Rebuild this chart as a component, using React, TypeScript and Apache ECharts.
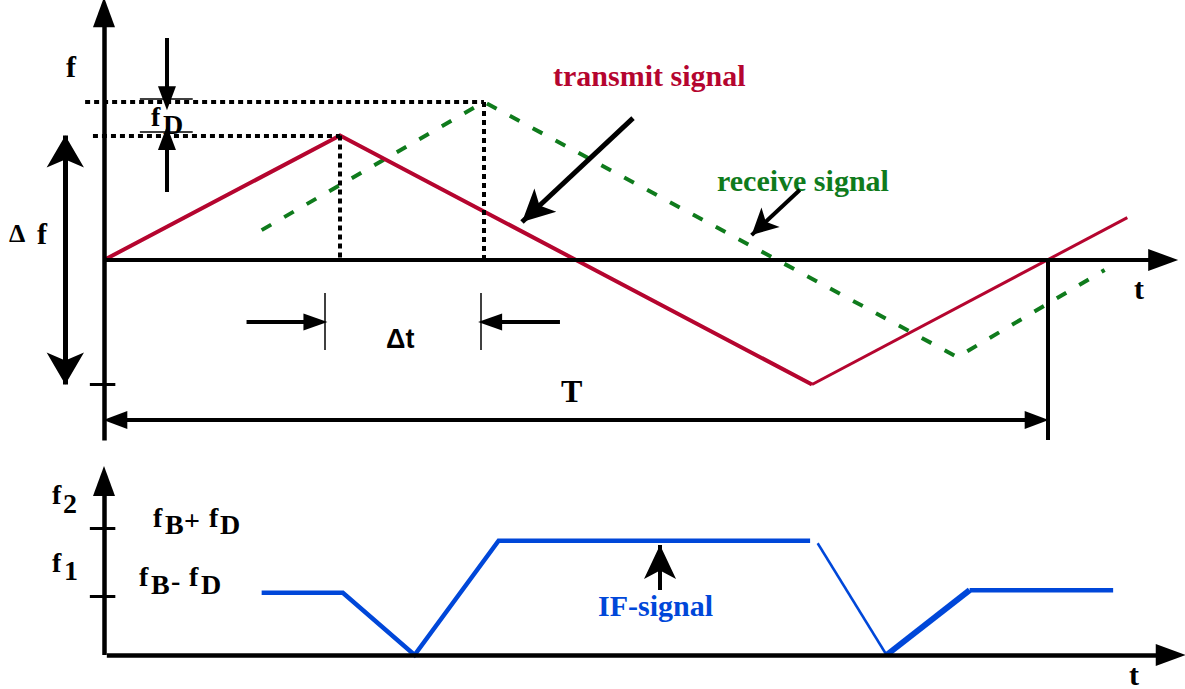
import React, { useEffect, useRef } from 'react';
import * as echarts from 'echarts';

// Time axis: one period T = 100 units. Top frequency axis: sweep Δf = 1 unit. Bottom: f2 = 1 unit.
const transmitT = [0, 25, 75];
const transmitF = [0, 1.0, -1.0];
const transmitTailT = [75, 108.4];
const transmitTailF = [-1.0, 0.34];
const receiveT = [16.7, 40.25, 90.4, 106];
const receiveF = [0.24, 1.27, -0.78, -0.08];
const ifMainT = [16.7, 25.3, 32.9, 41.8, 74.8];
const ifMainF = [0.49, 0.49, 0, 0.9, 0.9];
const ifFallT = [75.6, 82.9];
const ifFallF = [0.88, 0];
const ifRiseT = [82.9, 91.7];
const ifRiseF = [0, 0.51];
const ifFlatT = [91.7, 106.9];
const ifFlatF = [0.51, 0.51];

const periodT = 100;
const peakT = 25;
const delayedPeakT = 40.25;
const sweepF = 1.0;
const receivePeakF = 1.27;
const f1Level = 0.465;
const f2Level = 1.0;

const RED = '#b5052f';
const GREEN = '#0f7b1c';
const BLUE = '#0047d9';
const SERIF = '"Liberation Serif", "Times New Roman", serif';
const SANS = '"Liberation Sans", Arial, sans-serif';

const zip = (a: number[], b: number[]) => a.map((v, i) => [v, b[i]]);

type SegOpt = { w?: number; type?: any; s0?: string; s1?: string; size?: number[]; color?: string };
const seg = (a: number[], b: number[], o: SegOpt = {}) => {
  const ls = { color: o.color || '#000', width: o.w ?? 4, type: o.type || 'solid', cap: 'butt' };
  return [
    { coord: a, symbol: o.s0 || 'none', symbolSize: o.size || [20, 28], lineStyle: ls },
    { coord: b, symbol: o.s1 || 'none', symbolSize: o.size || [20, 28], lineStyle: ls },
  ];
};

const txt = (x: number, y: number, text: string, size: number, color = '#000', family = SERIF, weight = 'bold') => ({
  type: 'text',
  x,
  y,
  silent: true,
  style: {
    text,
    font: `${weight} ${size}px ${family}`,
    fill: color,
    textAlign: 'left',
    textVerticalAlign: 'middle',
  },
});

export default function App() {
  const ref = useRef<HTMLDivElement>(null);
  useEffect(() => {
    if (!ref.current) return;
    const chart = echarts.init(ref.current, undefined, { renderer: 'svg' });
    const dotted = [5, 4];
    const TRI = 'triangle';
    const topMarks = [
      seg([0, -1.45], [0, 1.99], { w: 4.5, s1: TRI, size: [22, 30] }),
      seg([0, 0], [112.2, 0], { w: 4, s1: TRI, size: [22, 30] }),
      seg([-1.5, -sweepF], [1.2, -sweepF], { w: 3 }),
      seg([-4.1, -sweepF], [-4.1, sweepF], { w: 5, s0: 'arrow', s1: 'arrow', size: [28, 32] }),
      seg([6.67, 1.783], [6.67, 1.3], { w: 4, s1: TRI, size: [18, 24] }),
      seg([6.67, 0.546], [6.67, 0.98], { w: 4, s1: TRI, size: [18, 24] }),
      seg([3.8, 1.293], [9.4, 1.293], { w: 1.5 }),
      seg([3.8, 1.028], [9.4, 1.028], { w: 1.5 }),
      seg([-2, receivePeakF], [delayedPeakT, receivePeakF], { w: 4, type: dotted }),
      seg([-1.17, sweepF], [peakT, sweepF], { w: 4, type: dotted }),
      seg([peakT, sweepF], [peakT, 0], { w: 4, type: dotted }),
      seg([delayedPeakT, receivePeakF], [delayedPeakT, 0], { w: 4, type: dotted }),
      seg([15.1, -0.498], [22.4, -0.498], { w: 4, s1: TRI, size: [17, 24] }),
      seg([23.4, -0.265], [23.4, -0.723], { w: 1.5 }),
      seg([48.3, -0.498], [40.9, -0.498], { w: 4, s1: TRI, size: [17, 24] }),
      seg([39.9, -0.265], [39.9, -0.723], { w: 1.5 }),
      seg([1.2, -1.285], [98.8, -1.285], { w: 4, s0: TRI, s1: TRI, size: [18, 24] }),
      seg([periodT, 0], [periodT, -1.446], { w: 4 }),
      seg([56.04, 1.14], [44.28, 0.305], { w: 5, s1: 'arrow', size: [24, 32] }),
      seg([73.7, 0.562], [68.6, 0.2], { w: 4, s1: 'arrow', size: [20, 26] }),
    ];
    const botMarks = [
      seg([0, 0], [0, 1.37], { w: 4.5, s1: TRI, size: [22, 30] }),
      seg([0.3, 0], [113.0, 0], { w: 4.5, s1: TRI, size: [22, 30] }),
      seg([-1.5, f2Level], [1.2, f2Level], { w: 3 }),
      seg([-1.5, f1Level], [1.2, f1Level], { w: 3 }),
      seg([58.9, 0.512], [58.9, 0.866], { w: 4, s1: 'arrow', size: [24, 34] }),
    ];
    const mk = (data: any[]) => ({
      silent: true,
      animation: false,
      symbol: ['none', 'none'],
      label: { show: false },
      emphasis: { disabled: true },
      data,
    });
    const lineS = (name: string, data: number[][], color: string, width: number, g: number, extra: any = {}) => ({
      name,
      type: 'line',
      xAxisIndex: g,
      yAxisIndex: g,
      data,
      symbol: 'none',
      silent: true,
      lineStyle: { color, width, cap: 'butt', join: 'miter', ...(extra.lineStyle || {}) },
      itemStyle: { color },
      z: 3,
      ...(extra.markLine ? { markLine: extra.markLine } : {}),
    });
    const option: any = {
      animation: false,
      backgroundColor: '#fff',
      grid: [
        { left: 0.16, width: 1180, top: 4.775, height: 435.75 },
        { left: 0.16, width: 1180, top: 470.85, height: 215.9 },
      ],
      xAxis: [
        { type: 'value', gridIndex: 0, min: -11, max: 114, show: false },
        { type: 'value', gridIndex: 1, min: -11, max: 114, show: false },
      ],
      yAxis: [
        { type: 'value', gridIndex: 0, min: -1.45, max: 2.05, show: false },
        { type: 'value', gridIndex: 1, min: -0.25, max: 1.45, show: false },
      ],
      series: [
        lineS('receive signal', zip(receiveT, receiveF), GREEN, 4, 0, { lineStyle: { type: [11, 15] } }),
        lineS('transmit signal', zip(transmitT, transmitF), RED, 4, 0, { markLine: mk(topMarks) }),
        lineS('transmit tail', zip(transmitTailT, transmitTailF), RED, 3, 0),
        lineS('IF-signal', zip(ifMainT, ifMainF), BLUE, 4.5, 1, { markLine: mk(botMarks) }),
        lineS('IF fall', zip(ifFallT, ifFallF), BLUE, 2.5, 1),
        lineS('IF rise', zip(ifRiseT, ifRiseF), BLUE, 6, 1),
        lineS('IF flat', zip(ifFlatT, ifFlatF), BLUE, 4.5, 1),
      ],
      graphic: [
        txt(66, 66, 'f', 30),
        txt(9, 233, 'Δ', 26),
        txt(37, 233, 'f', 30),
        txt(151, 116, 'f', 28),
        txt(163, 124, 'D', 28),
        txt(553, 75, 'transmit signal', 30, RED),
        txt(717, 180, 'receive signal', 30, GREEN),
        txt(1134, 288, 't', 30),
        txt(386, 339, 'Δt', 27, '#000', SANS),
        txt(561, 391, 'T', 32),
        txt(52, 494, 'f', 28),
        txt(63, 503, '2', 28),
        txt(52, 562, 'f', 28),
        txt(64, 570, '1', 28),
        txt(153, 517, 'f', 28),
        txt(165, 524, 'B', 28),
        txt(184, 520, '+', 28),
        txt(209, 517, 'f', 28),
        txt(220, 524, 'D', 28),
        txt(139, 576, 'f', 28),
        txt(151, 584, 'B', 28),
        txt(171, 580, '-', 28),
        txt(189, 576, 'f', 28),
        txt(201, 584, 'D', 28),
        txt(598, 605, 'IF-signal', 30, BLUE),
        txt(1129, 674, 't', 30),
      ],
    };
    chart.setOption(option);
    return () => chart.dispose();
  }, []);
  return <div ref={ref} style={{ position: 'absolute', left: 0, top: 0, width: 1185, height: 689 }} />;
}
